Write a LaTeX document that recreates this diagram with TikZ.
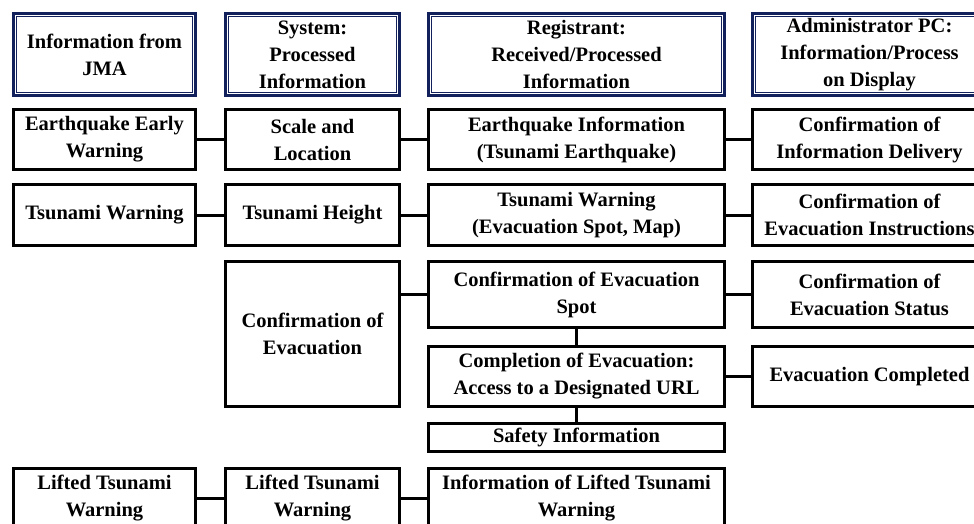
\documentclass[tikz,border=0pt]{standalone}
\usepackage{fontspec}
\setmainfont{Liberation Serif}
\usetikzlibrary{calc}
\definecolor{hdnavy}{RGB}{18,32,92}

\begin{document}
\begin{tikzpicture}[x=1pt,y=-1pt,
    box/.style={draw,line width=3pt,fill=white,align=center,inner sep=0pt,
      font=\fontsize{20.5}{27}\selectfont\bfseries},
    head/.style={box,draw=hdnavy,line width=3.5pt},
    link/.style={line width=3pt}]
  \useasboundingbox (0,0) rectangle (974,523);
  \clip (0,0) rectangle (974,523);
  % draw headers
  \node[head,minimum width=182,minimum height=82] (hjma) at (104.5,54.5)
        {Information from\\JMA};
  \node[head,minimum width=174,minimum height=82] (hsys) at (312.5,54.5)
        {System:\\Processed\\Information};
  \node[head,minimum width=296,minimum height=82] (hreg) at (576.5,54.5)
        {Registrant:\\Received/Processed\\Information};
  \node[head,minimum width=234,minimum height=82] (hadm) at (869.5,54.5)
        {Administrator PC:\\Information/Process\\on Display};
  \foreach \n in {hjma,hsys,hreg,hadm}
    \draw[hdnavy,line width=1pt] ($(\n.north west)+(4.5pt,-4.5pt)$)
          rectangle ($(\n.south east)+(-4.5pt,4.5pt)$);
  % earthquake row
  \node[box,minimum width=182,minimum height=60] (jeew) at (104.5,139.5)
        {Earthquake Early\\Warning};
  \node[box,minimum width=174,minimum height=60] (sscale) at (312.5,139.5)
        {Scale and\\Location};
  \node[box,minimum width=296,minimum height=60] (rquake) at (576.5,139.5)
        {Earthquake Information\\(Tsunami Earthquake)};
  \node[box,minimum width=234,minimum height=60] (adeliv) at (869.5,139.5)
        {Confirmation of\\Information Delivery};
  % tsunami row
  \node[box,minimum width=182,minimum height=61] (jtsu) at (104.5,215)
        {Tsunami Warning};
  \node[box,minimum width=174,minimum height=61] (sheight) at (312.5,215)
        {Tsunami Height};
  \node[box,minimum width=296,minimum height=61] (rtsu) at (576.5,215)
        {Tsunami Warning\\(Evacuation Spot, Map)};
  \node[box,minimum width=234,minimum height=61] (ainstr) at (869.5,215)
        {Confirmation of\\Evacuation Instructions};
  % evacuation rows
  \node[box,minimum width=174,minimum height=145] (sevac) at (312.5,334)
        {Confirmation of\\Evacuation};
  \node[box,minimum width=296,minimum height=66] (rspot) at (576.5,294.5)
        {Confirmation of Evacuation\\Spot};
  \node[box,minimum width=234,minimum height=66] (astat) at (869.5,294.5)
        {Confirmation of\\Evacuation Status};
  \node[box,minimum width=296,minimum height=60] (rdone) at (576.5,376.5)
        {Completion of Evacuation:\\Access to a Designated URL};
  \node[box,minimum width=234,minimum height=60] (adone) at (869.5,376.5)
        {Evacuation Completed};
  \node[box,minimum width=296,minimum height=28] (rsafe) at (576.5,437.5)
        {Safety Information};
  % lifted row
  \node[box,minimum width=182,minimum height=59] (jlift) at (104.5,498)
        {Lifted Tsunami\\Warning};
  \node[box,minimum width=174,minimum height=59] (slift) at (312.5,498)
        {Lifted Tsunami\\Warning};
  \node[box,minimum width=296,minimum height=59] (rlift) at (576.5,498)
        {Information of Lifted Tsunami\\Warning};
  % draw links
  \draw[link] (jeew) -- (sscale);
  \draw[link] (sscale) -- (rquake);
  \draw[link] (rquake) -- (adeliv);
  \draw[link] (jtsu) -- (sheight);
  \draw[link] (sheight) -- (rtsu);
  \draw[link] (rtsu) -- (ainstr);
  \draw[link] (rspot.west) -- (rspot.west -| sevac.east);
  \draw[link] (rspot) -- (astat);
  \draw[link] (rspot) -- (rdone);
  \draw[link] (rdone) -- (adone);
  \draw[link] (rdone) -- (rsafe);
  \draw[link] (jlift) -- (slift);
  \draw[link] (slift) -- (rlift);
\end{tikzpicture}
\end{document}
